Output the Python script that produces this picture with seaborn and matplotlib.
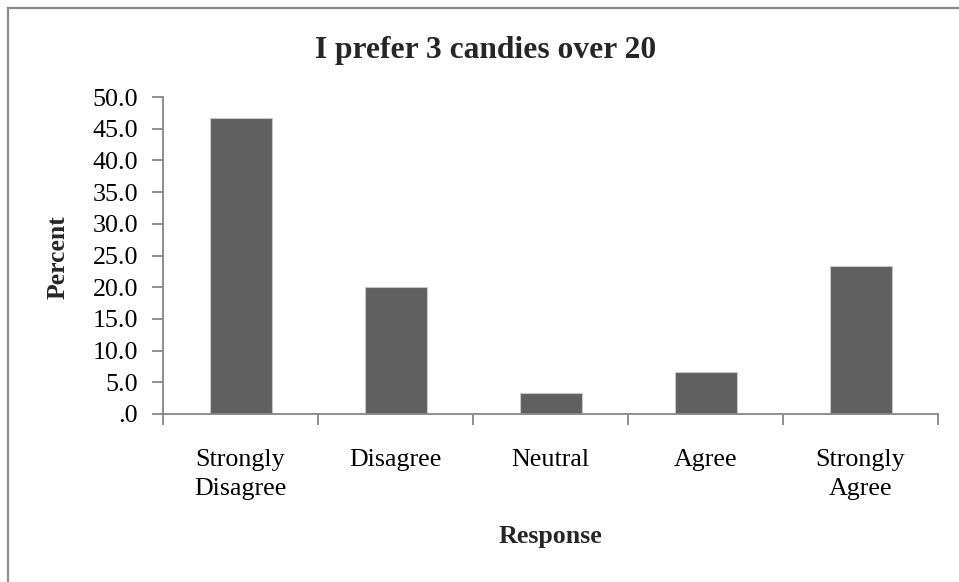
import matplotlib
matplotlib.use("Agg")
import matplotlib.pyplot as plt
from matplotlib.patches import Rectangle
from matplotlib.ticker import FuncFormatter, MultipleLocator, FixedLocator
import seaborn as sns
import pandas as pd

# Survey responses (percent of respondents)
categories = ["Strongly Disagree", "Disagree", "Neutral", "Agree", "Strongly Agree"]
tick_labels = ["Strongly\nDisagree", "Disagree", "Neutral", "Agree", "Strongly\nAgree"]
percent = [46.7, 20.0, 3.3, 6.7, 23.3]

title = "I prefer 3 candies over 20"
x_label = "Response"
y_label = "Percent"

sns.set_theme(style="white")
plt.rcParams["font.family"] = ["Liberation Serif", "DejaVu Serif"]

df = pd.DataFrame({"Response": categories, "Percent": percent})

W, H = 959, 582
fig = plt.figure(figsize=(W / 100, H / 100), dpi=100)
fig.patch.set_facecolor("white")

ax = fig.add_axes([163 / W, 1 - 414 / H, (938 - 163) / W, (414 - 97) / H])
sns.barplot(data=df, x="Response", y="Percent", order=categories,
            color="#606060", width=0.4, saturation=1,
            edgecolor="#c8c8c8", linewidth=0.8, ax=ax)

axis_grey = "#868686"
ax.set_xlim(-0.5, len(categories) - 0.5)
ax.set_ylim(0, 50)
ax.yaxis.set_major_locator(MultipleLocator(5))
ax.yaxis.set_major_formatter(FuncFormatter(
    lambda v, _: ".0" if abs(v) < 1e-9 else f"{v:.1f}"))

# category labels centred under bars, tick marks between categories
ax.set_xticks(range(len(categories)))
ax.set_xticklabels(tick_labels)
ax.xaxis.set_minor_locator(FixedLocator([i - 0.5 for i in range(len(categories) + 1)]))
ax.tick_params(axis="x", which="major", length=0, pad=25, labelsize=18.7,
               labelcolor="black")
ax.tick_params(axis="x", which="minor", bottom=True, length=8, width=1.3,
               color=axis_grey, direction="out")
ax.tick_params(axis="y", left=True, length=8, width=1.3, color=axis_grey,
               direction="out", pad=10, labelsize=18.7, labelcolor="black")
for lbl in ax.get_xticklabels():
    lbl.set_linespacing(1.4)

for side in ("top", "right"):
    ax.spines[side].set_visible(False)
for side in ("left", "bottom"):
    ax.spines[side].set_color(axis_grey)
    ax.spines[side].set_linewidth(1.3)

ax.set_xlabel("")
ax.set_ylabel("")
ax.grid(False)

fig.text(58 / W, 1 - 257 / H, y_label, rotation=90, ha="center", va="center",
         fontsize=18.5, fontweight="bold")
fig.text(550 / W, 1 - 537 / H, x_label, ha="center", va="center",
         fontsize=18.7, fontweight="bold")
fig.text(486 / W, 1 - 58 / H, title, ha="center", va="baseline",
         fontsize=22.7, fontweight="bold")

# chart-area border
fig.add_artist(Rectangle((8 / W, -0.1), 1.2, 1 - 8 / H + 0.1,
                         transform=fig.transFigure, fill=False,
                         edgecolor="#8a8a8a", linewidth=1.6))

fig.savefig("out.png", dpi=100)
